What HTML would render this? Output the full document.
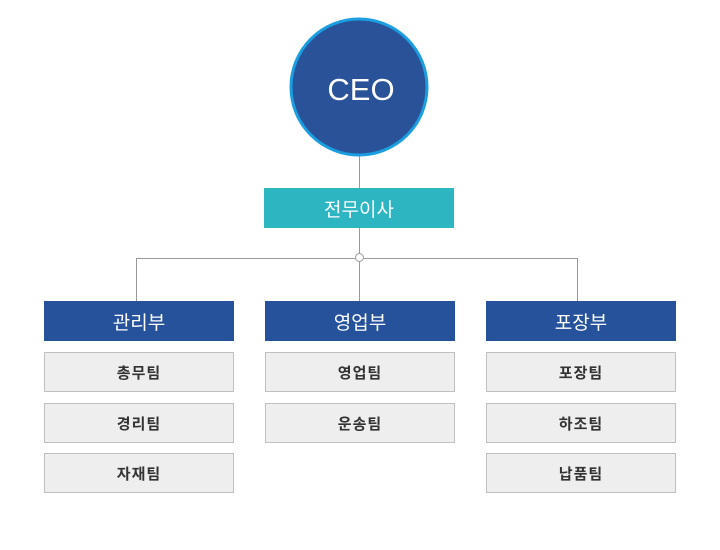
<!DOCTYPE html>
<html><head><meta charset="utf-8"><style>
body{margin:0;width:720px;height:550px;background:#fff;position:relative;font-family:"Liberation Sans","Noto Sans CJK KR",sans-serif;overflow:hidden}
.b{position:absolute;display:flex;align-items:center;justify-content:center;box-sizing:border-box}
.d{background:#26529c;color:#fff;font-size:19px;width:190px;height:40px;top:301px}
.t{background:#eeeeee;border:1px solid #c0c0c0;color:#333;font-size:15px;font-weight:bold;letter-spacing:1px;width:190px;height:40px}
</style></head><body>
<svg width="720" height="550" style="position:absolute;left:0;top:0">
<line x1="359.5" y1="150" x2="359.5" y2="301" stroke="#999" stroke-width="1"/>
<line x1="136" y1="258.5" x2="578" y2="258.5" stroke="#999" stroke-width="1"/>
<line x1="136.5" y1="258" x2="136.5" y2="301" stroke="#999" stroke-width="1"/>
<line x1="577.5" y1="258" x2="577.5" y2="301" stroke="#999" stroke-width="1"/>
<circle cx="359.5" cy="257.5" r="4" fill="#fff" stroke="#999" stroke-width="1"/>
<circle cx="359" cy="87" r="68" fill="#2a5298" stroke="#1a9ee0" stroke-width="3"/>
<text x="361" y="100" fill="#fff" font-size="31" text-anchor="middle" font-family="Liberation Sans, sans-serif">CEO</text>
</svg>
<div class="b" style="left:264px;top:188px;width:190px;height:40px;background:#2db5c2;color:#fff;font-size:19px">전무이사</div>
<div class="b d" style="left:44px">관리부</div>
<div class="b d" style="left:265px">영업부</div>
<div class="b d" style="left:486px">포장부</div>
<div class="b t" style="left:44px;top:352px">총무팀</div>
<div class="b t" style="left:44px;top:403px">경리팀</div>
<div class="b t" style="left:44px;top:453px">자재팀</div>
<div class="b t" style="left:265px;top:352px">영업팀</div>
<div class="b t" style="left:265px;top:403px">운송팀</div>
<div class="b t" style="left:486px;top:352px">포장팀</div>
<div class="b t" style="left:486px;top:403px">하조팀</div>
<div class="b t" style="left:486px;top:453px">납품팀</div>
</body></html>
